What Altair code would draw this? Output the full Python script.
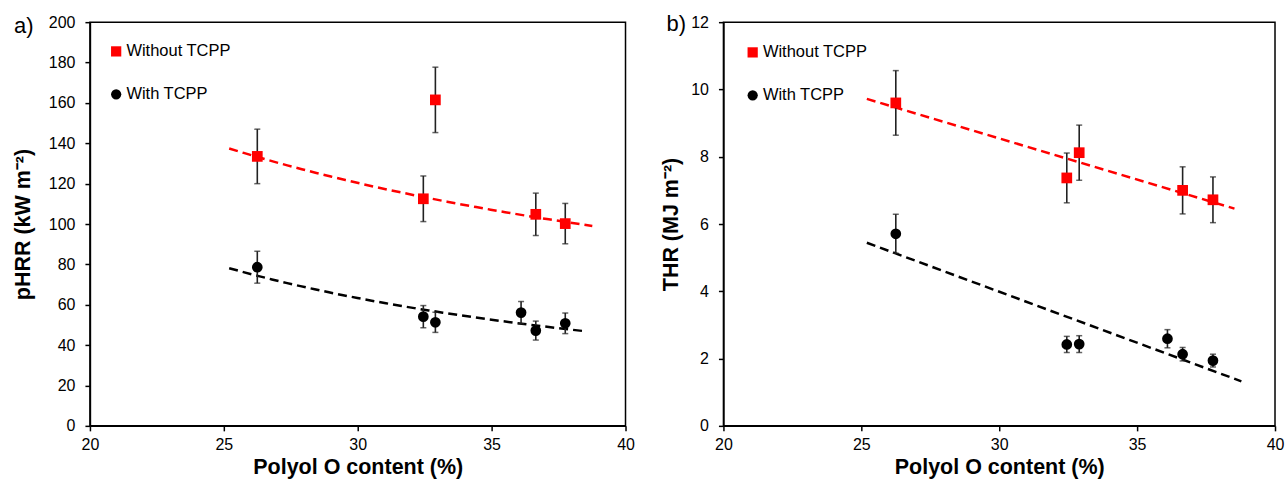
import altair as alt
import pandas as pd

# ---------------- data ----------------
series_names = ["Without TCPP", "With TCPP"]
series_colors = ["#ff0000", "#000000"]
series_shapes = ["square", "circle"]

x_without = [26.25, 32.45, 32.9, 36.65, 37.75]
x_with = [26.25, 32.45, 32.9, 36.1, 36.65, 37.75]

# a) pHRR
a_without_y = [133.5, 112.5, 161.5, 104.8, 100.2]
a_without_err = [13.5, 11.3, 16.2, 10.5, 10.0]
a_without_fit = [True, True, False, True, True]
a_with_y = [78.6, 54.1, 51.3, 56.1, 47.2, 50.8]
a_with_err = [7.9, 5.5, 5.0, 5.5, 4.7, 5.1]
a_with_fit = [True, True, True, True, True, True]

# b) THR
b_without_y = [9.60, 7.37, 8.12, 7.00, 6.72]
b_without_err = [0.96, 0.74, 0.82, 0.70, 0.68]
b_without_fit = [True, True, True, True, True]
b_with_y = [5.71, 2.42, 2.43, 2.59, 2.13, 1.94]
b_with_err = [0.58, 0.24, 0.25, 0.27, 0.20, 0.19]
b_with_fit = [True, True, True, True, True, True]

x_ticks = [20, 25, 30, 35, 40]
a_y_ticks = [0, 20, 40, 60, 80, 100, 120, 140, 160, 180, 200]
b_y_ticks = [0, 2, 4, 6, 8, 10, 12]

FONT = "Liberation Sans"


def make_df(xs, ys, errs, fits, name):
    return pd.DataFrame({
        "x": xs, "y": ys,
        "lo": [v - e for v, e in zip(ys, errs)],
        "hi": [v + e for v, e in zip(ys, errs)],
        "fit": fits, "series": name,
    })


def panel(df, width, ytitle, ydomain, yticks, fits, label, lab_x, lab_y,
          leg_x, leg_y, title_pad):
    xaxis = alt.Axis(values=x_ticks, title="Polyol O content (%)",
                     labelPadding=6, titlePadding=4)
    yaxis = alt.Axis(values=yticks, title=ytitle, labelPadding=10,
                     titlePadding=title_pad)
    xs = alt.Scale(domain=[20, 40], nice=False, zero=False)
    ys = alt.Scale(domain=ydomain, nice=False)
    X = lambda f: alt.X(f, scale=xs, axis=xaxis)
    Y = lambda f: alt.Y(f, scale=ys, axis=yaxis)
    base = alt.Chart(df)
    layers = []
    for name, method, extent, color in fits:
        layers.append(
            base.transform_filter((alt.datum.series == name) & alt.datum.fit)
            .transform_regression("x", "y", method=method, extent=extent)
            .mark_line(color=color, strokeDash=[9, 5], strokeWidth=2.5)
            .encode(x=X("x:Q"), y=Y("y:Q"))
        )
    ebar = base.mark_rule(color="#222222", strokeWidth=1.6).encode(
        x=X("x:Q"), y=Y("lo:Q"), y2="hi:Q")
    cap_lo = base.mark_tick(orient="horizontal", size=6, thickness=1.5,
                            color="#222222").encode(x=X("x:Q"), y=Y("lo:Q"))
    cap_hi = base.mark_tick(orient="horizontal", size=6, thickness=1.5,
                            color="#222222").encode(x=X("x:Q"), y=Y("hi:Q"))
    legend = alt.Legend(orient="none", legendX=leg_x, legendY=leg_y,
                        title=None, labelFontSize=16.5, labelFont=FONT,
                        labelColor="black", symbolSize=105, rowPadding=26,
                        padding=0, labelOffset=2, symbolStrokeWidth=0)
    pts = base.mark_point(filled=True, size=115, opacity=1).encode(
        x=X("x:Q"), y=Y("y:Q"),
        color=alt.Color("series:N", scale=alt.Scale(domain=series_names,
                                                    range=series_colors),
                        legend=legend),
        shape=alt.Shape("series:N", scale=alt.Scale(domain=series_names,
                                                    range=series_shapes),
                        legend=legend),
    )
    lab = alt.Chart(pd.DataFrame({"t": [label]})).mark_text(
        align="left", baseline="middle", fontSize=22, font=FONT,
        color="black").encode(text="t:N", x=alt.value(lab_x),
                              y=alt.value(lab_y))
    return alt.layer(*layers, ebar, cap_lo, cap_hi, pts, lab).properties(
        width=width, height=404)


df_a = pd.concat([
    make_df(x_without, a_without_y, a_without_err, a_without_fit, series_names[0]),
    make_df(x_with, a_with_y, a_with_err, a_with_fit, series_names[1]),
], ignore_index=True)
df_b = pd.concat([
    make_df(x_without, b_without_y, b_without_err, b_without_fit, series_names[0]),
    make_df(x_with, b_with_y, b_with_err, b_with_fit, series_names[1]),
], ignore_index=True)

chart_a = panel(df_a, 536, "pHRR (kW m⁻²)", [0, 200], a_y_ticks,
                [(series_names[0], "pow", [25.2, 38.76], "#ff0000"),
                 (series_names[1], "pow", [25.2, 38.5], "#000000")],
                "a)", -76, 4, 18, 21, 14)
chart_b = panel(df_b, 552, "THR (MJ m⁻²)", [0, 12], b_y_ticks,
                [(series_names[0], "linear", [25.2, 38.53], "#ff0000"),
                 (series_names[1], "linear", [25.2, 38.78], "#000000")],
                "b)", -57, 2, 21, 22, 8)

chart = alt.hconcat(chart_a, chart_b, spacing=24).resolve_scale(
    color="independent", shape="independent", y="independent",
    x="independent").resolve_legend(color="independent", shape="independent"
).properties(padding={"left": 11, "top": 12, "right": 0, "bottom": 0},
             background="white"
).configure_axis(
    labelFont=FONT, labelFontSize=16, labelColor="black",
    titleFont=FONT, titleFontSize=21.5, titleFontWeight="bold",
    titleColor="black", domainColor="black", domainWidth=1.5,
    tickColor="black", tickWidth=1.5, tickSize=5, grid=False,
    labelFlush=False,
).configure_view(stroke="black", strokeWidth=1.5)

chart.save("out.html", embed_options={"renderer": "svg", "actions": False})
